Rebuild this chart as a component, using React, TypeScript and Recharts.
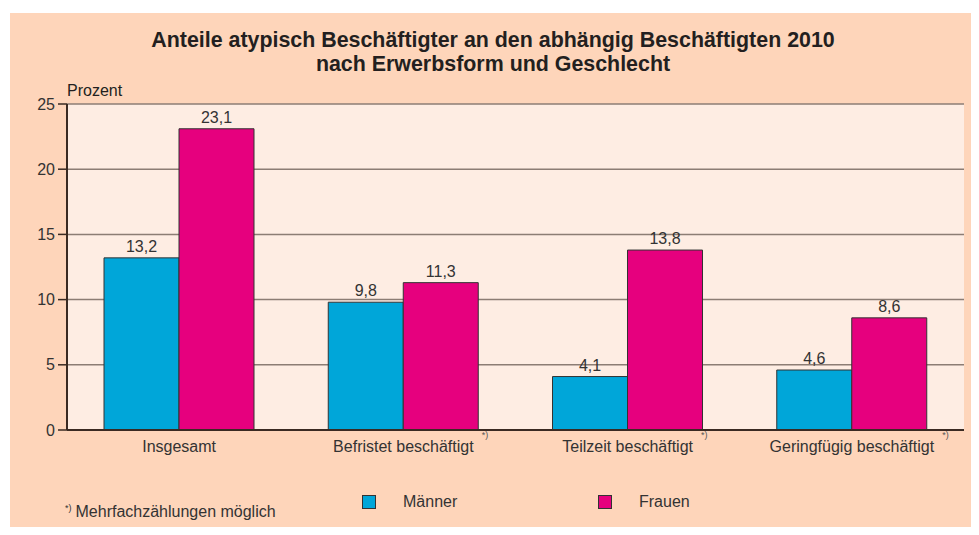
import React from "react";
import {
  BarChart,
  Bar,
  XAxis,
  YAxis,
  CartesianGrid,
  LabelList,
} from "recharts";

const categories = [
  "Insgesamt",
  "Befristet beschäftigt",
  "Teilzeit beschäftigt",
  "Geringfügig beschäftigt",
];
const maenner = [13.2, 9.8, 4.1, 4.6];
const frauen = [23.1, 11.3, 13.8, 8.6];
const footnote = [false, true, true, true];
const yTicks = [0, 5, 10, 15, 20, 25];

const titleLines = [
  "Anteile atypisch Beschäftigter an den abhängig Beschäftigten 2010",
  "nach Erwerbsform und Geschlecht",
];

const series = [
  { key: "maenner", name: "Männer", color: "#00A6D9" },
  { key: "frauen", name: "Frauen", color: "#E6007E" },
];

const data = categories.map((c, i) => ({
  name: c,
  maenner: maenner[i],
  frauen: frauen[i],
  footnote: footnote[i],
}));

const FONT = "'Liberation Sans', Arial, sans-serif";
const fmt = (v: number) => v.toFixed(1).replace(".", ",");

let measureCtx: CanvasRenderingContext2D | null = null;
const textWidth = (s: string, size: number) => {
  if (typeof document === "undefined") return s.length * size * 0.5;
  if (!measureCtx) {
    const c = document.createElement("canvas");
    measureCtx = c.getContext("2d");
  }
  if (!measureCtx) return s.length * size * 0.5;
  measureCtx.font = `${size}px 'Liberation Sans', Arial, sans-serif`;
  return measureCtx.measureText(s).width;
};

const CategoryTick = (props: any) => {
  const { x, y, payload, index } = props;
  const label = String(payload.value);
  const w = textWidth(label, 16);
  return (
    <g>
      <text
        x={x}
        y={y}
        dy="0.71em"
        textAnchor="middle"
        fill="#333"
        fontSize={16}
        fontFamily={FONT}
      >
        {label}
      </text>
      {footnote[index] ? (
        <text
          x={x + w / 2 + 8}
          y={y - 3}
          fontSize={9}
          fill="#555"
          fontFamily={FONT}
        >
          *)
        </text>
      ) : null}
    </g>
  );
};

export default function App() {
  return (
    <div
      style={{
        position: "relative",
        width: 979,
        height: 535,
        margin: -8,
        background: "#ffffff",
        overflow: "hidden",
        fontFamily: FONT,
      }}
    >
      <div
        style={{
          position: "absolute",
          left: 10,
          top: 13,
          width: 969,
          height: 522,
          background: "#FED5BA",
        }}
      />
      <div
        style={{
          position: "absolute",
          left: 0,
          top: 28,
          width: 986,
          textAlign: "center",
          fontWeight: "bold",
          fontSize: 21.4,
          lineHeight: "24px",
          color: "#231f20",
          whiteSpace: "nowrap",
        }}
      >
        {titleLines.map((t) => (
          <div key={t}>{t}</div>
        ))}
      </div>
      <div
        style={{
          position: "absolute",
          left: 67,
          top: 82,
          fontSize: 16,
          lineHeight: "18px",
          color: "#231f20",
        }}
      >
        Prozent
      </div>
      <div style={{ position: "absolute", left: 0, top: 0 }}>
        <BarChart
          width={979}
          height={535}
          data={data}
          margin={{ top: 104, right: 15, left: 7, bottom: 75 }}
          barGap={0}
          barCategoryGap="16.5%"
        >
          <CartesianGrid
            vertical={false}
            fill="#FEEDE3"
            stroke="#8C7D74"
            strokeWidth={1.5}
          />
          <XAxis
            dataKey="name"
            tickLine={false}
            tickSize={0}
            tickMargin={11}
            axisLine={{ stroke: "#3a2a22", strokeWidth: 2 }}
            tick={<CategoryTick />}
            interval={0}
          />
          <XAxis
            xAxisId="top"
            orientation="top"
            dataKey="name"
            height={0}
            tick={false}
            tickLine={false}
            axisLine={{ stroke: "#3a2a22", strokeWidth: 1.5 }}
          />
          <YAxis
            domain={[0, 25]}
            ticks={yTicks}
            width={60}
            tickSize={9}
            tickMargin={3}
            tickLine={{ stroke: "#3a2a22", strokeWidth: 1.5 }}
            axisLine={{ stroke: "#3a2a22", strokeWidth: 2 }}
            tick={{ fill: "#333", fontSize: 16, fontFamily: FONT }}
          />
          <YAxis
            yAxisId="right"
            orientation="right"
            domain={[0, 25]}
            width={0}
            tick={false}
            tickLine={false}
            axisLine={{ stroke: "#3a2a22", strokeWidth: 2 }}
          />
          {series.map((s) => (
            <Bar
              key={s.key}
              dataKey={s.key}
              name={s.name}
              fill={s.color}
              stroke="#333"
              strokeWidth={1}
              isAnimationActive={false}
            >
              <LabelList
                dataKey={s.key}
                position="top"
                offset={6}
                formatter={(v: any) => fmt(Number(v))}
                style={{ fill: "#333", fontSize: 16, fontFamily: FONT }}
              />
            </Bar>
          ))}
        </BarChart>
      </div>
      {series.map((s, i) => (
        <div
          key={s.key}
          style={{
            position: "absolute",
            left: 362 + i * 236,
            top: 493,
            height: 18,
            display: "flex",
            alignItems: "center",
            fontSize: 16,
            lineHeight: "18px",
            color: "#333",
          }}
        >
          <span
            style={{
              display: "inline-block",
              width: 12,
              height: 12,
              background: s.color,
              border: "1px solid #333",
              marginRight: 27,
            }}
          />
          {s.name}
        </div>
      ))}
      <div
        style={{
          position: "absolute",
          left: 65,
          top: 503,
          fontSize: 16,
          lineHeight: "18px",
          color: "#333",
          whiteSpace: "nowrap",
        }}
      >
        <span
          style={{
            fontSize: 9,
            position: "relative",
            top: -6,
            marginRight: 4,
          }}
        >
          *)
        </span>
        Mehrfachzählungen möglich
      </div>
    </div>
  );
}
